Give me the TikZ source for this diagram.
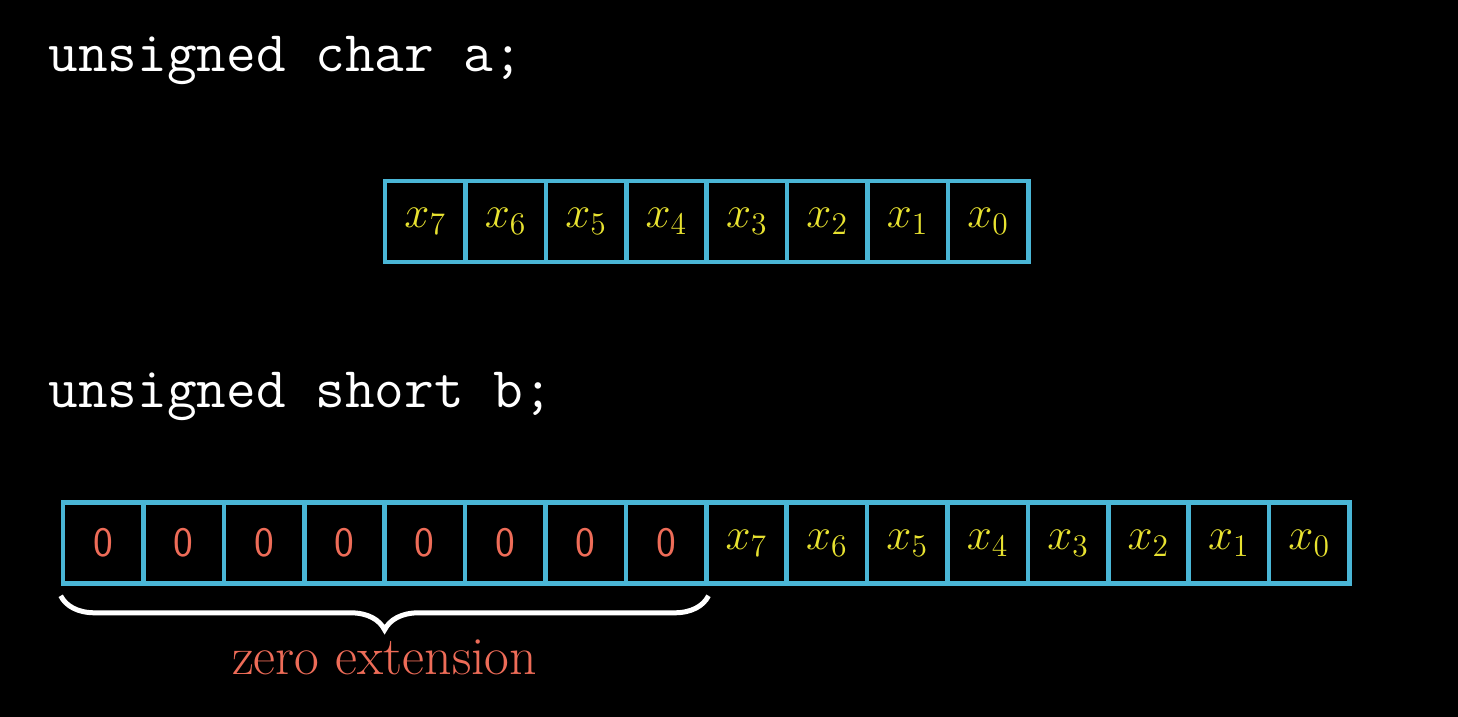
\documentclass[tikz,border=0pt]{standalone}
\usepackage{fix-cm}
\usepackage{tikz}
\usetikzlibrary{calc,decorations.pathreplacing}

\definecolor{cellblue}{RGB}{74,182,214}
\definecolor{bityellow}{RGB}{232,226,48}
\definecolor{zerored}{RGB}{238,108,88}

\begin{document}
\begin{tikzpicture}[x=0.5pt, y=-0.5pt,
    cell/.style = {draw=cellblue, line width=2.3pt, minimum width=40.2pt, minimum height=40.5pt, inner sep=0pt},
    bit/.style = {cell, text=bityellow, font=\fontsize{22.5}{27}\selectfont},
    zero/.style = {cell, text=zerored, font=\fontsize{21}{25}\selectfont\sffamily},
    code/.style = {anchor=base west, inner sep=0pt, text=white, font=\fontsize{28.8}{34}\selectfont\ttfamily},
    brace/.style = {draw=white, line width=2.5pt, decorate, decoration={brace, mirror, amplitude=17pt, raise=5pt}}]

    \fill[black] (0,0) rectangle (1458,717);
    \useasboundingbox (0,0) rectangle (1458,717);

    % Declarations
    \node[code] (decla) at (48,72) {unsigned char a;};
    \node[code] (declb) at (48,407) {unsigned short b;};

    % Byte a
    \node[bit] (a7) at (425.2,221.5) {$x_7$};
    \node[bit] (a6) at (505.6,221.5) {$x_6$};
    \node[bit] (a5) at (586,221.5) {$x_5$};
    \node[bit] (a4) at (666.4,221.5) {$x_4$};
    \node[bit] (a3) at (746.8,221.5) {$x_3$};
    \node[bit] (a2) at (827.2,221.5) {$x_2$};
    \node[bit] (a1) at (907.6,221.5) {$x_1$};
    \node[bit] (a0) at (988,221.5) {$x_0$};

    % Short b
    \node[zero] (b15) at (103.2,543) {0};
    \node[zero] (b14) at (183.6,543) {0};
    \node[zero] (b13) at (264,543) {0};
    \node[zero] (b12) at (344.4,543) {0};
    \node[zero] (b11) at (424.8,543) {0};
    \node[zero] (b10) at (505.2,543) {0};
    \node[zero] (b9) at (585.6,543) {0};
    \node[zero] (b8) at (666,543) {0};
    \node[bit] (b7) at (746.4,543) {$x_7$};
    \node[bit] (b6) at (826.8,543) {$x_6$};
    \node[bit] (b5) at (907.2,543) {$x_5$};
    \node[bit] (b4) at (987.6,543) {$x_4$};
    \node[bit] (b3) at (1068,543) {$x_3$};
    \node[bit] (b2) at (1148.4,543) {$x_2$};
    \node[bit] (b1) at (1228.8,543) {$x_1$};
    \node[bit] (b0) at (1309.2,543) {$x_0$};

    % Brace
    \draw[brace] (b15.south west) -- (b8.south east);
    \node[text=zerored, font=\fontsize{26.9}{32}\selectfont] (ext) at ($(b15.south west)!0.5!(b8.south east) + (0,72)$) {zero extension};

\end{tikzpicture}
\end{document}
